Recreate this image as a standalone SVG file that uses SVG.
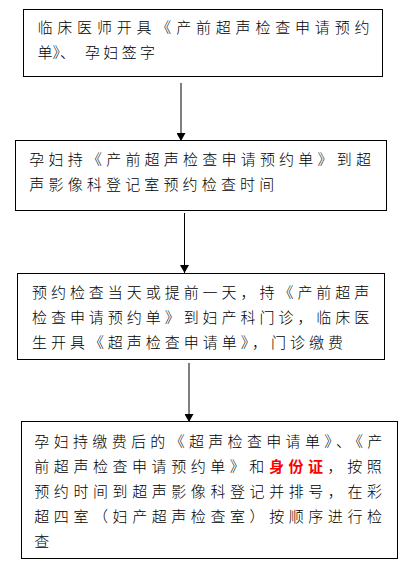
<svg xmlns="http://www.w3.org/2000/svg" width="413" height="569" viewBox="0 0 413 569">
<style>
.box{fill:#fff;stroke:#000;stroke-width:1}
.t{font-family:"Noto Sans CJK SC","Liberation Sans",sans-serif;font-size:15px;font-weight:300;fill:#000}
.red{fill:#f00;font-weight:bold}
.conn{stroke:#000;stroke-width:1;fill:none}
</style>
<defs>
<marker id="arr" viewBox="0 0 8 9" refX="8" refY="4.5" markerWidth="8" markerHeight="9" markerUnits="userSpaceOnUse" orient="auto">
<path d="M0,0 L8,4.5 L0,9 z" fill="#000"/>
</marker>
</defs>
<rect width="413" height="569" fill="#fff"/>
<g id="connectors">
<line class="conn" x1="181" y1="83" x2="181" y2="141" marker-end="url(#arr)"/>
<line class="conn" x1="184.5" y1="213" x2="184.5" y2="273" marker-end="url(#arr)"/>
<line class="conn" x1="189" y1="363" x2="189" y2="422" marker-end="url(#arr)"/>
</g>
<g id="node1">
<rect class="box" x="23.5" y="9.5" width="359" height="67"/>
<text class="t" x="37.5" y="32.7" textLength="332" lengthAdjust="spacing">临床医师开具《产前超声检查申请预约</text>
<text class="t" x="37.5" y="57.7">单》、</text>
<text class="t" x="85" y="57.7" textLength="70" lengthAdjust="spacing">孕妇签字</text>
</g>
<g id="node2">
<rect class="box" x="15.5" y="140.5" width="371" height="70"/>
<text class="t" x="29.3" y="165" textLength="341.7" lengthAdjust="spacing">孕妇持《产前超声检查申请预约单》到超</text>
<text class="t" x="29.3" y="189.7" textLength="245" lengthAdjust="spacing">声影像科登记室预约检查时间</text>
</g>
<g id="node3">
<rect class="box" x="17.5" y="273.5" width="367" height="86"/>
<text class="t" x="32" y="297.7" textLength="337.3" lengthAdjust="spacing">预约检查当天或提前一天，持《产前超声</text>
<text class="t" x="32" y="322.7" textLength="337.3" lengthAdjust="spacing">检查申请预约单》到妇产科门诊，临床医</text>
<text class="t" x="32" y="347.7" textLength="311" lengthAdjust="spacing">生开具《超声检查申请单》，门诊缴费</text>
</g>
<g id="node4">
<rect class="box" x="21.5" y="421.5" width="376" height="137"/>
<text class="t" x="34.3" y="446.7" textLength="348" lengthAdjust="spacing">孕妇持缴费后的《超声检查申请单》、《产</text>
<text class="t" x="34.3" y="471.7" textLength="347.4" lengthAdjust="spacing">前超声检查申请预约单》和<tspan class="red">身份证</tspan>，按照</text>
<text class="t" x="34.3" y="496.7" textLength="347.7" lengthAdjust="spacing">预约时间到超声影像科登记并排号，在彩</text>
<text class="t" x="34.3" y="521.7" textLength="347.7" lengthAdjust="spacing">超四室（妇产超声检查室）按顺序进行检</text>
<text class="t" x="34.3" y="546.7">查</text>
</g>
</svg>
